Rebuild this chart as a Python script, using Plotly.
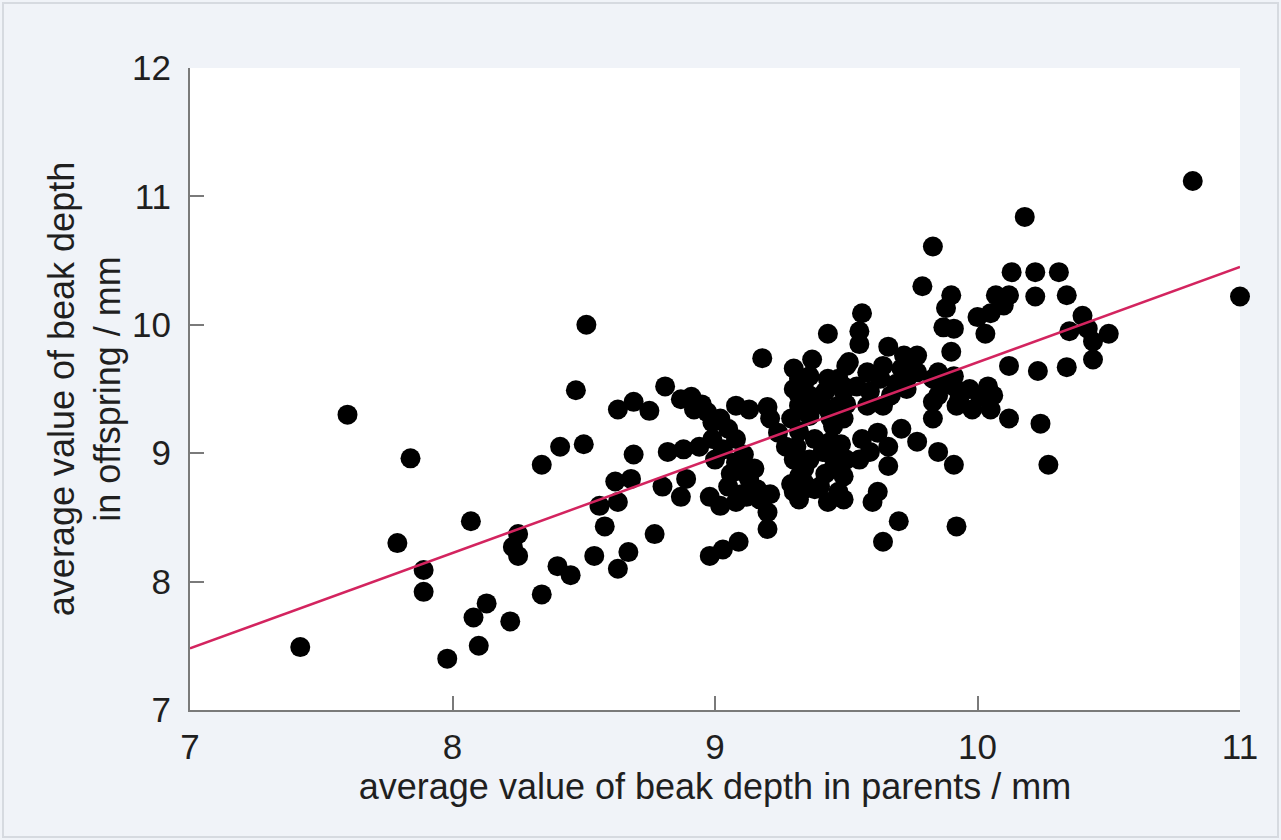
import plotly.graph_objects as go

# Mean beak depth of parents (x) and their offspring (y), in mm
parent_depth = [
    7.42, 7.60, 7.84, 7.79, 7.89, 7.89, 7.98, 8.07, 8.08, 8.13, 8.10, 8.22, 8.25, 8.23, 8.25,
    8.34, 8.34, 8.40, 8.45, 8.41, 8.50, 8.47, 8.51, 8.54, 8.58, 8.56, 8.63, 8.62, 8.68, 8.69,
    8.63, 8.67, 8.63, 8.69, 8.75, 8.77, 8.81, 8.82, 8.80, 8.87, 8.89, 8.98, 9.03, 9.09, 9.18,
    8.87, 8.92, 8.97, 8.99, 9.05, 9.08, 9.13, 9.20, 9.30, 9.32, 8.88, 8.94, 8.99, 9.03, 9.08,
    9.11, 9.13, 9.16, 8.98, 9.05, 9.02, 9.08, 9.12, 9.17, 9.20, 9.21, 9.24, 9.27, 9.30, 9.32,
    9.34, 9.20, 9.21, 9.30,
    9.50, 9.58, 9.64, 9.71, 9.77, 9.54, 9.59, 9.67, 9.73, 9.83, 9.83, 9.83, 9.47, 9.49, 9.43,
    9.32, 9.36, 9.58, 9.64, 9.45, 9.44, 9.56, 9.62, 9.66, 9.71, 9.77, 9.55, 9.59, 9.66, 9.85,
    9.62, 9.60, 9.31, 9.36, 9.41, 9.45, 9.49, 9.34, 9.40, 9.47, 9.32, 9.43, 9.49,
    9.30, 9.36, 9.43, 9.49, 9.32, 9.40, 9.47, 9.36, 9.44, 9.49,
    10.82, 11.00, 10.18, 9.83, 9.79, 10.13, 10.22, 10.31, 10.22, 10.34, 10.07, 10.12, 10.10,
    9.90, 9.88, 9.87, 9.91, 10.00, 10.05, 10.03, 10.40, 10.35, 10.42, 10.50, 10.44, 10.44,
    10.12, 10.23, 10.34, 10.12, 10.24, 10.27, 9.90, 9.91, 9.92, 9.70, 9.64, 9.56, 9.55, 9.43,
    9.55, 9.66, 9.72, 9.51, 9.75, 9.73, 9.37,
    9.85, 9.85, 9.91, 9.97, 10.04, 10.06, 10.05, 9.98, 9.92, 9.77, 9.91,
    9.34, 9.42, 9.38, 9.50, 9.29, 9.32, 9.38, 9.48, 9.34, 9.42, 9.38, 9.50, 9.29, 9.44,
    8.91, 8.95, 9.02, 9.08, 9.11, 9.00, 9.06, 9.10, 9.15,
    9.93, 10.01, 9.88, 9.63, 9.69,
]
offspring_depth = [
    7.49, 9.30, 8.96, 8.30, 8.09, 7.92, 7.40, 8.47, 7.72, 7.83, 7.50, 7.69, 8.37, 8.27, 8.20,
    8.91, 7.90, 8.12, 8.05, 9.05, 9.07, 9.49, 10.00, 8.20, 8.43, 8.59, 8.62, 8.78, 8.80, 8.99,
    8.10, 8.23, 9.34, 9.40, 9.33, 8.37, 9.52, 9.01, 8.74, 8.66, 8.80, 8.20, 8.25, 8.31, 9.74,
    9.42, 9.34, 9.32, 9.24, 9.19, 9.37, 9.34, 9.36, 9.50, 9.37, 9.03, 9.05, 9.11, 9.03, 8.93,
    8.85, 8.80, 8.72, 8.66, 8.74, 8.59, 8.62, 8.66, 8.64, 8.54, 9.27, 9.16, 9.05, 8.95, 8.82,
    8.72, 8.41, 8.68, 8.70,
    9.68, 9.63, 9.68, 9.66, 9.63, 9.52, 9.48, 9.45, 9.50, 9.58, 9.40, 9.27, 9.58, 9.48, 9.34,
    9.58, 9.45, 9.37, 9.37, 9.21, 9.09, 9.11, 9.16, 9.05, 9.19, 9.09, 8.95, 9.01, 8.90, 9.01,
    8.70, 8.62, 9.05, 8.95, 9.01, 8.88, 8.82, 8.77, 8.74, 8.70, 8.64, 8.62, 8.64,
    9.66, 9.60, 9.58, 9.52, 9.45, 9.42, 9.37, 9.29, 9.27, 9.27,
    11.12, 10.22, 10.84, 10.61, 10.30, 10.41, 10.41, 10.41, 10.22, 10.23, 10.23, 10.23, 10.15,
    10.23, 10.13, 9.98, 9.97, 10.06, 10.09, 9.93, 10.07, 9.95, 9.97, 9.93, 9.87, 9.73,
    9.68, 9.64, 9.67, 9.27, 9.23, 8.91, 9.79, 8.91, 8.43, 8.47, 8.31, 10.09, 9.95, 9.93,
    9.85, 9.83, 9.76, 9.71, 9.68, 9.58, 9.73,
    9.63, 9.45, 9.52, 9.50, 9.52, 9.45, 9.34, 9.34, 9.37, 9.76, 9.60,
    9.55, 9.48, 9.38, 9.38, 9.27, 9.17, 9.11, 9.07, 8.88, 8.84, 8.72, 8.95, 8.76, 8.99,
    9.44, 9.38, 9.27, 9.11, 8.99, 8.95, 8.84, 8.68, 8.88,
    9.42, 9.44, 9.54, 9.58, 9.54,
]

# Least-squares line end points
fit_x = [7.0, 11.0]
fit_y = [7.48, 10.45]

x_ticks = [7, 8, 9, 10, 11]
y_ticks = [7, 8, 9, 10, 11, 12]

FONT = "Liberation Sans, Arial, sans-serif"
INK = "#1f1f1f"
AXIS = "#7a7a7a"

fig = go.Figure()
fig.add_trace(go.Scatter(
    x=parent_depth, y=offspring_depth, mode="markers",
    marker=dict(size=20, color="black", line=dict(width=0)),
    cliponaxis=False, showlegend=False, hoverinfo="x+y",
))
fig.add_trace(go.Scatter(
    x=fit_x, y=fit_y, mode="lines",
    line=dict(color="#d3245f", width=2.5),
    showlegend=False, hoverinfo="skip",
))

W, H = 1281, 840
L, R, T, B = 190, 41, 68, 130
pw, ph = W - L - R, H - T - B

def px_x(p):
    return (p - L) / pw

def px_y(p):
    return (H - B - p) / ph

fig.update_layout(
    width=W, height=H,
    margin=dict(l=L, r=R, t=T, b=B, pad=0),
    paper_bgcolor="#f0f3f8",
    plot_bgcolor="white",
    font=dict(family=FONT, size=35, color=INK),
    shapes=[dict(
        type="rect", xref="paper", yref="paper", layer="below",
        x0=px_x(3), x1=px_x(1278), y0=px_y(837), y1=px_y(3),
        line=dict(color="#d6dae0", width=2), fillcolor="rgba(0,0,0,0)",
    )],
)
fig.update_xaxes(
    range=[7, 11], tickvals=x_ticks, ticktext=[str(v) for v in x_ticks],
    showgrid=False, zeroline=False,
    showline=True, linecolor=AXIS, linewidth=2, mirror=False,
    ticks="inside", ticklen=14, tickwidth=1.5, tickcolor=AXIS,
    tickfont=dict(size=35, color=INK), ticklabelstandoff=5,
    title=dict(text="average value of beak depth in parents / mm",
               font=dict(size=36, color=INK), standoff=6),
)
fig.update_yaxes(
    range=[7, 12], tickvals=y_ticks, ticktext=[str(v) for v in y_ticks],
    showgrid=False, zeroline=False,
    showline=True, linecolor=AXIS, linewidth=2, mirror=False,
    ticks="inside", ticklen=14, tickwidth=1.5, tickcolor=AXIS,
    tickfont=dict(size=35, color=INK), ticklabelstandoff=10,
    title=dict(text="average value of beak depth<br>in offspring / mm",
               font=dict(size=36, color=INK), standoff=0),
)

fig.write_html("out.html")
